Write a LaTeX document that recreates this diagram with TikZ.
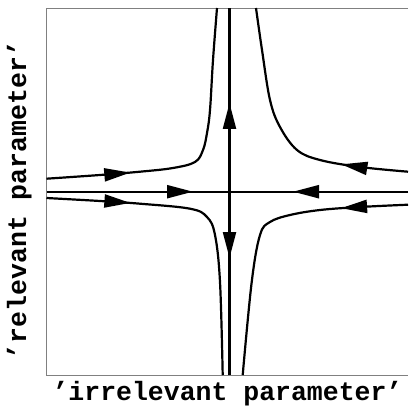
\documentclass[tikz,border=0pt]{standalone}
\usepackage{fontspec}
\setmonofont{Liberation Mono}
\usetikzlibrary{arrows.meta,decorations.markings}
\tikzset{
  flow/.style={line width=2.2pt},
  flowtip/.style={postaction={decorate},decoration={markings,
      mark=at position #1 with {\arrow{Triangle[length=26pt,width=13pt]}}}},
  axislabel/.style={font=\fontsize{26.5}{30}\selectfont\ttfamily\bfseries,inner sep=0pt}
}
\begin{document}
\begin{tikzpicture}[x=1pt,y=-1pt]
\useasboundingbox (0,0) rectangle (408,411);
\coordinate (O) at (229.5,191.7);
\draw[gray,line width=0.8pt] (408,8) -| (46.5,375) -- (408,375);
\draw[flow,flowtip=146.5pt] (46.5,191.7) -- (O);
\draw[flow,flowtip=115pt] (408,191.7) -- (O);
\draw[flow,flowtip=88.7pt] (O) -- (229.5,8);
\draw[flow,flowtip=66.3pt] (O) -- (229.5,375);
\draw[flow,flowtip=84pt] plot[smooth,tension=0.6] coordinates {(46.5,178.7) (100,175) (140,171.7) (173,168) (195,162) (203,150) (207,133) (210,110) (213,60) (217,8)};
\draw[flow,flowtip=67pt] plot[smooth,tension=0.6] coordinates {(408,171.7) (360,167) (320,160) (297,150) (280,127) (270,100) (262,50) (256,8)};
\draw[flow,flowtip=84pt] plot[smooth,tension=0.6] coordinates {(46.5,198) (100,201) (140,203.7) (190,208.7) (207,217) (215,235) (220,282) (222.7,375)};
\draw[flow,flowtip=67pt] plot[smooth,tension=0.6] coordinates {(408,204.7) (360,207) (320,210) (290,215) (270,222) (260,235) (251.7,282) (242.7,375)};
\node[axislabel,anchor=base] (xlabel) at (227.5,400.7) {’irrelevant parameter’};
\node[axislabel,anchor=base,rotate=90] (ylabel) at (26,200) {’relevant parameter’};
\end{tikzpicture}
\end{document}
